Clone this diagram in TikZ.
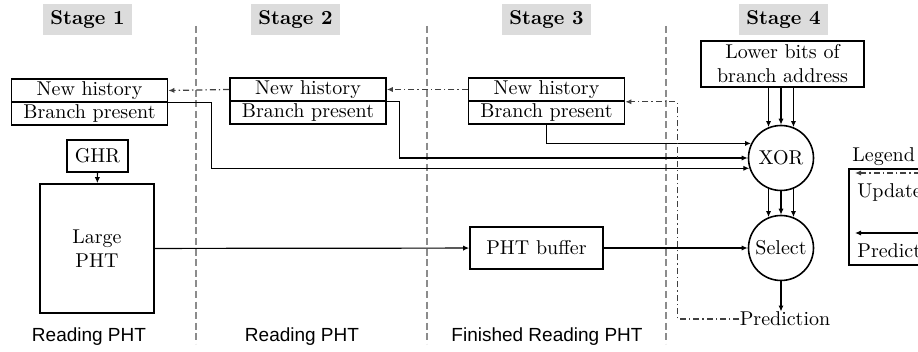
\documentclass[tikz,border=0pt]{standalone}
\usepackage{fontspec}
\newfontfamily\notefont{Liberation Sans}
\usetikzlibrary{positioning,arrows.meta,calc}
\definecolor{stagegray}{HTML}{DCDCDC}
\definecolor{divgray}{HTML}{8C8C8C}

\tikzset{
  box/.style={draw, line width=0.8pt, inner sep=1pt},
  histbox/.style={box, minimum width=78pt, minimum height=11.5pt, inner sep=0pt},
  stagelabel/.style={fill=stagegray, minimum width=44.5pt, minimum height=15.5pt, inner sep=0pt, font=\bfseries},
  gate/.style={circle, draw, line width=0.8pt, minimum size=32.5pt, inner sep=0pt},
  pred/.style={-{Latex[length=3pt,width=2.6pt]}, line width=0.6pt},
  upd/.style={pred, draw=black!75, dash pattern=on 3pt off 1.5pt on 0.7pt off 1.5pt},
  divider/.style={draw=divgray, line width=0.6pt, dash pattern=on 3.5pt off 1.8pt},
  phase/.style={font=\notefont\fontsize{9.5}{11}\selectfont},
}

\begin{document}
\begin{tikzpicture}[x=0.5pt,y=-0.5pt]
\useasboundingbox (0,0) rectangle (918,352);
\clip (0,0) rectangle (918,352);

% stage headers and dividers
\node[stagelabel] (s1) at (87.5,20) {Stage 1};
\node[stagelabel] (s2) at (295.5,20) {Stage 2};
\node[stagelabel] (s3) at (546.5,20) {Stage 3};
\node[stagelabel] (s4) at (783.5,20) {Stage 4};
\draw[divider] (196,26) -- (196,344);
\draw[divider] (427,26) -- (427,344);
\draw[divider] (666,26) -- (666,344);

% history registers
\node[histbox] (nh1) at (89.5,90.5) {New history};
\node[histbox] (bp1) at (89.5,113.5) {Branch present};
\node[histbox] (nh2) at (308,89.5) {New history};
\node[histbox] (bp2) at (308,112.5) {Branch present};
\node[histbox] (nh3) at (546.5,89.5) {New history};
\node[histbox] (bp3) at (546.5,112.5) {Branch present};

% tables and gates
\node[box, minimum width=30.5pt, minimum height=16pt] (ghr) at (97.5,156) {GHR};
\node[box, minimum width=57pt, minimum height=64.5pt, align=center] (pht) at (97,248.5) {Large\\PHT};
\node[box, minimum width=66.5pt, minimum height=21pt] (buffer) at (536.5,248) {PHT buffer};
\node[box, minimum width=81.5pt, minimum height=23pt, align=center] (lower) at (782.5,64) {Lower bits of\\branch address};
\node[gate] (xor) at (781,158) {XOR};
\node[gate] (sel) at (781,248) {Select};
\node[inner sep=0pt] (predlabel) at (785,319) {Prediction};

% phase notes
\node[phase] (ph1) at (89,337) {Reading PHT};
\node[phase] (ph2) at (302,337) {Reading PHT};
\node[phase] (ph3) at (547,337) {Finished Reading PHT};

% prediction path
\draw[pred] (ghr) -- (pht);
\draw[pred] (pht) -- (buffer);
\draw[pred] (buffer) -- (sel);
\draw[pred] (nh1.south east) -- ++(43,0) |- (xor.198);
\draw[pred] (nh2.south east) -- ++(13,0) |- (xor.west);
\draw[pred] (bp3.south) |- (xor.154);
\foreach \a in {112,90,68}
  \draw[pred] (lower.south -| xor.\a) -- (xor.\a);
\foreach \a/\b in {248/112,270/90,292/68}
  \draw[pred] (xor.\a) -- (sel.\b);
\draw[pred] (sel.south) -- (sel.south |- predlabel.north);

% update path
\draw[upd] (predlabel.west) -- ++(-62,0) |- (nh3.south east);
\draw[upd] (nh3.west) -- (nh2.east);
\draw[upd] (nh2.west) -- (nh1.east);

% legend
\node[anchor=west, inner sep=0pt] (legtitle) at (852,157) {Legend};
\node[box, anchor=north west, minimum width=60pt, minimum height=48pt] (legend) at (848,168) {};
\coordinate (updA) at (960,173);
\coordinate (updB) at (855,173);
\coordinate (predA) at (960,233);
\coordinate (predB) at (855,233);
\draw[upd] (updA) -- (updB);
\draw[pred] (predA) -- (predB);
\node[anchor=west, inner sep=0pt] (updtext) at (857,193) {Update};
\node[anchor=west, inner sep=0pt] (predtext) at (857,251) {Prediction};
\end{tikzpicture}
\end{document}
